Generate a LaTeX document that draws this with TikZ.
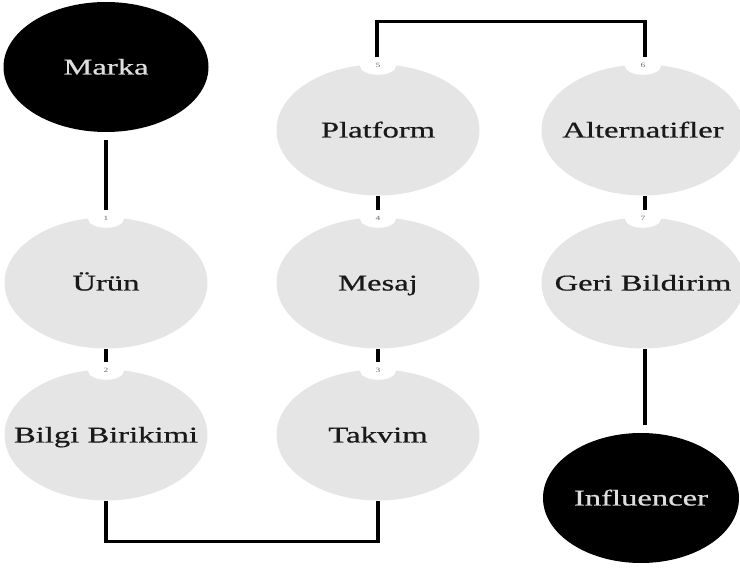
\documentclass[tikz,border=0pt]{standalone}
\usepackage{fontspec}
\setmainfont{Liberation Serif}
\newfontfamily\labelfont[FakeBold=0.6]{Liberation Serif}
\usetikzlibrary{shapes.geometric}
\definecolor{stagegray}{RGB}{229,229,229}
\definecolor{labelgray}{RGB}{222,222,222}
\newcommand{\widetxt}[1]{\makebox[0pt]{\scalebox{1.45}[1]{#1}}}

\begin{document}
\begin{tikzpicture}[x=1pt, y=-1pt,
    endpoint/.style={ellipse, fill=black, minimum width=205pt, minimum height=130pt,
                     inner sep=0pt, text height=19pt, text depth=4pt,
                     text=labelgray, font=\labelfont\fontsize{22.5}{24}\selectfont},
    stage/.style={ellipse, fill=stagegray, minimum width=203pt, minimum height=131pt,
                  inner sep=0pt, text height=19pt, text depth=4pt,
                  text=black!90, font=\labelfont\fontsize{22.5}{24}\selectfont},
    badge/.style={ellipse, fill=white, minimum width=36pt, minimum height=18pt,
                  inner sep=0pt, text=black!60, font=\fontsize{6.5}{7}\selectfont},
    link/.style={line width=3.6pt},
  ]
    \useasboundingbox (0,0) rectangle (740,569);

    \node[endpoint] (marka) at (106,67) {\widetxt{Marka}};
    \node[stage] (urun)       at (106,283) {\widetxt{Ürün}};
    \node[stage] (bilgi)      at (106,435) {\widetxt{Bilgi Birikimi}};
    \node[stage] (platform)   at (378,130) {\widetxt{Platform}};
    \node[stage] (mesaj)      at (378,283) {\widetxt{Mesaj}};
    \node[stage] (takvim)     at (378,435) {\widetxt{Takvim}};
    \node[stage] (alternatif) at (643,130) {\widetxt{Alternatifler}};
    \node[stage] (geri)       at (643,283) {\widetxt{Geri Bildirim}};
    \node[endpoint, minimum width=196pt] (influencer) at (641,498) {\widetxt{Influencer}};

    % numbered badges on top of each stage
    \node[badge] (b1) at ([yshift=-1.5pt]urun.north)       {\widetxt{1}};
    \node[badge] (b2) at ([yshift=-1.5pt]bilgi.north)      {\widetxt{2}};
    \node[badge] (b3) at ([yshift=-1.5pt]takvim.north)     {\widetxt{3}};
    \node[badge] (b4) at ([yshift=-1.5pt]mesaj.north)      {\widetxt{4}};
    \node[badge] (b5) at ([yshift=-1.5pt]platform.north)   {\widetxt{5}};
    \node[badge] (b6) at ([yshift=-1.5pt]alternatif.north) {\widetxt{6}};
    \node[badge] (b7) at ([yshift=-1.5pt]geri.north)       {\widetxt{7}};

    \draw[link] ([yshift=-8pt]marka.south) -- (b1.north);
    \draw[link] (urun.south) -- (b2.north);
    \draw[link] (bilgi.south) -- ++(0,41) -| (takvim.south);
    \draw[link] (takvim.north |- mesaj.south) -- (b3.north);
    \draw[link] (mesaj.north |- platform.south) -- (b4.north);
    \draw[link] ([xshift=-1pt]b5.north) -- ++(0,-35) -| ([xshift=2pt]b6.north);
    \draw[link] ([xshift=2pt]alternatif.south) -- ([xshift=2pt]b7.north);
    \draw[link] ([xshift=2pt]geri.south) -- ([xshift=4pt, yshift=8pt]influencer.north);
  \end{tikzpicture}
\end{document}
